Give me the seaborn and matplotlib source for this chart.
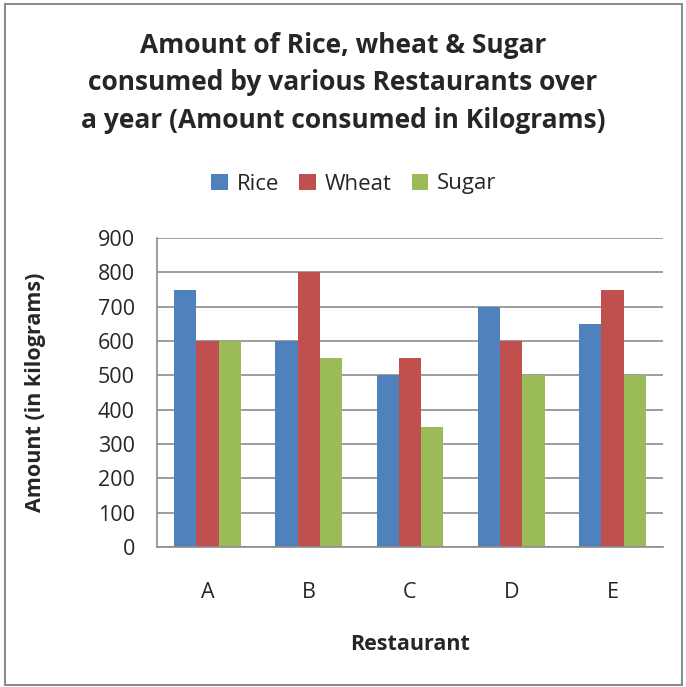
import matplotlib
matplotlib.use("Agg")
import matplotlib.pyplot as plt
import seaborn as sns
import pandas as pd
from matplotlib.patches import Rectangle

restaurants = ["A", "B", "C", "D", "E"]
series = ["Rice", "Wheat", "Sugar"]
rice = [750, 600, 500, 700, 650]
wheat = [600, 800, 550, 600, 750]
sugar = [600, 550, 350, 500, 500]
colors = ["#4F81BD", "#C0504D", "#9BBB59"]
yticks = [0, 100, 200, 300, 400, 500, 600, 700, 800, 900]

rows = []
for name, vals in zip(series, [rice, wheat, sugar]):
    for r, v in zip(restaurants, vals):
        rows.append({"Restaurant": r, "Item": name, "Amount": v})
df = pd.DataFrame(rows)

sns.set_style("white")
plt.rcParams["font.family"] = ["Open Sans", "DejaVu Sans"]

fig = plt.figure(figsize=(6.86, 6.87), dpi=100)
ax = fig.add_axes([157/686, 1-547/687, (663-157)/686, (547-238)/687])

sns.barplot(data=df, x="Restaurant", y="Amount", hue="Item", hue_order=series,
            palette=colors, width=0.66, gap=0, saturation=1, ax=ax, legend=True,
            edgecolor="none")

ax.set_ylim(0, 900)
ax.set_yticks(yticks)
ax.set_yticklabels([str(t) for t in yticks], fontsize=15.5)
ax.yaxis.grid(True, color="#8c8c8c", linewidth=1.2)
ax.set_axisbelow(True)
for s in ["top", "right"]:
    ax.spines[s].set_visible(False)
ax.spines["left"].set_color("#8c8c8c")
ax.spines["bottom"].set_color("#8c8c8c")
ax.spines["left"].set_linewidth(1.2)
ax.spines["bottom"].set_linewidth(1.2)
ax.tick_params(axis="y", length=5, color="#8c8c8c", width=1.2, pad=11)
ax.tick_params(axis="x", length=0, pad=25, labelsize=15.5)

ax.set_xlabel("Restaurant", fontsize=15.5, fontweight="bold", va="top")
ax.xaxis.set_label_coords(0.5, (547-634)/309)
ax.set_ylabel("Amount (in kilograms)", fontsize=15.5, fontweight="bold")
ax.yaxis.set_label_coords((46-157)/506, 0.5)

leg = ax.legend(loc="center", frameon=False,
                ncol=3, fontsize=16, handlelength=0.75, handleheight=0.75,
                handletextpad=0.4, columnspacing=0.9)
leg.set_bbox_to_anchor((0.5 + 11/686, 1-184/687), transform=fig.transFigure)

fig.text(0.5, 1-83/687, "Amount of Rice, wheat & Sugar\nconsumed by various Restaurants over\na year (Amount consumed in Kilograms)",
         ha="center", va="center", fontsize=19, fontweight="bold", linespacing=1.5)

fig.patches.append(Rectangle((5/686, 1-685/687), (682-5)/686, (684-3)/687, transform=fig.transFigure,
                             fill=False, edgecolor="#8c8c8c", linewidth=1.5))

fig.savefig("out.png", dpi=100)
